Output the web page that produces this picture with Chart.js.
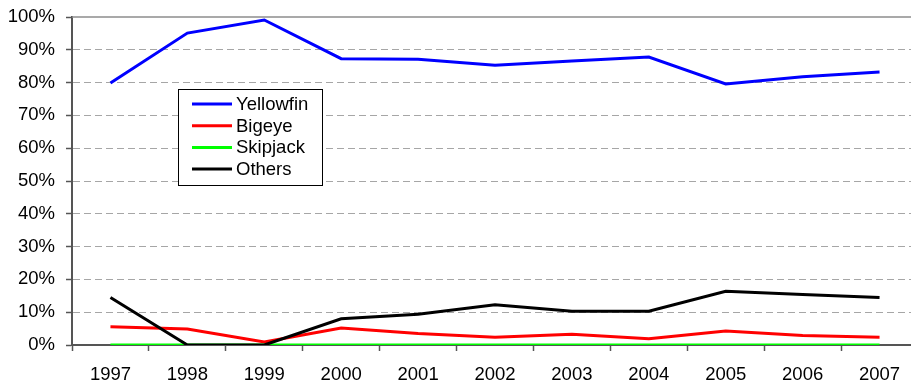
<!DOCTYPE html>
<html>
<head>
<meta charset="utf-8">
<script src="https://cdn.jsdelivr.net/npm/chart.js@4.4.1/dist/chart.umd.min.js"></script>
<style>
  html, body { margin: 0; padding: 0; background: #fff; overflow: hidden; }
  #wrap { width: 918px; height: 387px; }
</style>
</head>
<body>
<div id="wrap"><canvas id="grafico" width="918" height="387"></canvas></div>
<script>
// anos e participação de cada espécie (%)
var anos = ["1997", "1998", "1999", "2000", "2001", "2002", "2003", "2004", "2005", "2006", "2007"];
var yellowfin = [79.9, 95.1, 99.1, 87.3, 87.1, 85.3, 86.6, 87.8, 79.6, 81.8, 83.2];
var bigeye    = [5.6, 4.9, 0.9, 5.2, 3.5, 2.4, 3.3, 1.9, 4.3, 2.9, 2.4];
var skipjack  = [0, 0, 0, 0, 0, 0, 0, 0, 0, 0, 0];
var outros    = [14.5, 0, 0, 8.0, 9.4, 12.3, 10.3, 10.3, 16.4, 15.4, 14.5];
var ticks_y   = [0, 10, 20, 30, 40, 50, 60, 70, 80, 90, 100];

var fonte = "'Liberation Sans', Arial, sans-serif";

// ordem: a última série fica por cima das anteriores
function serie(nome, valores, cor, ordem) {
  return {
    label: nome,
    data: valores,
    borderColor: cor,
    backgroundColor: cor,
    borderWidth: 3,
    pointRadius: 0,
    tension: 0,
    fill: false,
    order: ordem
  };
}

// legenda desenhada dentro da área do gráfico, com moldura
var legendaBox = {
  id: "legendaBox",
  afterDatasetsDraw: function (chart) {
    var ctx = chart.ctx;
    var area = chart.chartArea;
    var x = area.left + 106, y = area.top + 72;
    var w = 144, h = 96;
    ctx.save();
    ctx.fillStyle = "#fff";
    ctx.fillRect(x, y, w, h);
    ctx.strokeStyle = "#000";
    ctx.lineWidth = 1;
    ctx.strokeRect(x + 0.5, y + 0.5, w, h);
    ctx.font = "18.5px " + fonte;
    ctx.textBaseline = "middle";
    chart.data.datasets.forEach(function (ds, i) {
      var cy = y + 15 + i * 21.7;
      ctx.strokeStyle = ds.borderColor;
      ctx.lineWidth = 3;
      ctx.beginPath();
      ctx.moveTo(x + 14, cy);
      ctx.lineTo(x + 54, cy);
      ctx.stroke();
      ctx.fillStyle = "#000";
      ctx.fillText(ds.label, x + 58, cy + 1);
    });
    ctx.restore();
  }
};

// linha sólida no topo da área de plotagem
var bordaTopo = {
  id: "bordaTopo",
  beforeDatasetsDraw: function (chart) {
    var ctx = chart.ctx;
    var area = chart.chartArea;
    ctx.save();
    ctx.strokeStyle = "#8c8c8c";
    ctx.lineWidth = 1.5;
    ctx.beginPath();
    ctx.moveTo(area.left, area.top);
    ctx.lineTo(area.right + 10, area.top);
    ctx.stroke();
    ctx.restore();
  }
};

var dados = {
  labels: anos,
  datasets: [
    serie("Yellowfin", yellowfin, "#0000ff", 3),
    serie("Bigeye", bigeye, "#ff0000", 2),
    serie("Skipjack", skipjack, "#00ff00", 1),
    serie("Others", outros, "#000000", 0)
  ]
};

var grafico = new Chart(document.getElementById("grafico"), {
  type: "line",
  data: dados,
  plugins: [bordaTopo, legendaBox],
  options: {
    responsive: false,
    animation: false,
    devicePixelRatio: 1,
    layout: { padding: { left: 0, right: 0, top: 17, bottom: 0 } },
    plugins: {
      legend: { display: false },
      tooltip: { enabled: false }
    },
    scales: {
      x: {
        offset: true,
        afterFit: function (scale) {
          scale.height = 42;
          scale.paddingLeft = 0;
          scale.paddingRight = 0;
        },
        grid: {
          offset: true,
          drawOnChartArea: false,
          drawTicks: true,
          tickLength: 6,
          tickColor: "#555",
          tickWidth: 1.5
        },
        border: { color: "#555", width: 2 },
        ticks: {
          color: "#000",
          padding: 13,
          maxRotation: 0,
          font: { family: fonte, size: 18.5 }
        }
      },
      y: {
        min: 0,
        max: 100,
        afterFit: function (scale) {
          scale.width = 72;
          scale.paddingTop = 0;
          scale.paddingBottom = 0;
        },
        afterBuildTicks: function (scale) {
          scale.ticks = ticks_y.map(function (v) { return { value: v }; });
        },
        grid: {
          color: function (c) { return c.tick.value === 100 ? "rgba(0,0,0,0)" : "#a6a6a6"; },
          lineWidth: 1,
          drawTicks: true,
          tickLength: 6,
          tickColor: "#555",
          tickWidth: 1.5
        },
        border: { color: "#555", width: 2, dash: [7, 4] },
        ticks: {
          color: "#000",
          padding: 11,
          font: { family: fonte, size: 18.5 },
          callback: function (v) { return v + "%"; }
        }
      }
    }
  }
});
</script>
</body>
</html>
